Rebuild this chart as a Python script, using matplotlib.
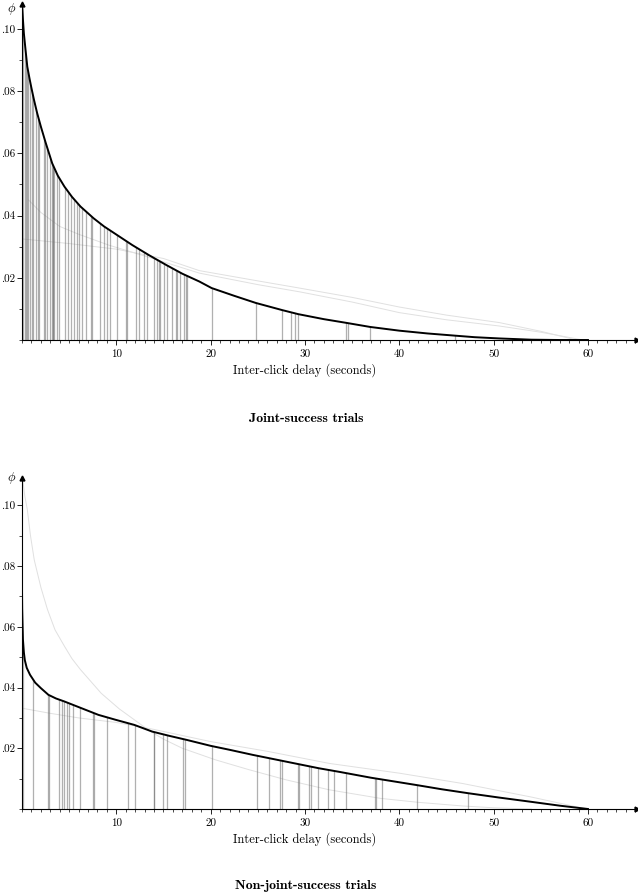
import numpy as np
import matplotlib
matplotlib.use("Agg")
import matplotlib.pyplot as plt
from matplotlib.ticker import MultipleLocator, FuncFormatter

plt.rcParams['font.family'] = 'cmr10'
plt.rcParams['mathtext.fontset'] = 'cm'
plt.rcParams['axes.unicode_minus'] = False

# ---- joint-success trials (top) ----
joint_curve_x = [0.0, 0.05, 0.1, 0.2, 0.35, 0.56, 0.8, 1.0, 1.27, 1.6, 2.0, 2.5, 3.2,
                 3.8, 4.5, 5.3, 6.2, 7.6, 8.7, 9.8, 11.7, 13.5, 15.3, 17.0, 18.8, 20.1,
                 22.5, 24.8, 27.6, 29.3, 32.0, 34.4, 36.9, 40, 43, 45.9, 48, 50.6, 54,
                 57, 60]
joint_curve_y = [0.108, 0.106, 0.103, 0.0985, 0.094, 0.0879, 0.084, 0.081, 0.0772,
                 0.073, 0.0686, 0.0635, 0.0568, 0.0528, 0.0493, 0.046, 0.0429, 0.0391,
                 0.0365, 0.0343, 0.0305, 0.0272, 0.0241, 0.0213, 0.0188, 0.0167, 0.0142,
                 0.0119, 0.0096, 0.0083, 0.0067, 0.0055, 0.0042, 0.0030, 0.0021, 0.0014,
                 0.0009, 0.0005, 0.0001, 0.0, 0.0]
joint_clicks = [0.14, 0.3, 0.43, 0.5, 0.64, 0.85, 1.03, 1.2, 1.49, 1.67, 1.84, 2.3, 2.45,
                2.7, 2.98, 3.23, 3.3, 3.33, 3.44, 3.76, 3.9, 4.57, 4.86, 5.18, 5.53, 5.82,
                6.06, 6.38, 6.81, 7.3, 7.45, 8.3, 8.65, 9.0, 9.36, 10.07, 11.0, 11.13,
                12.13, 12.41, 12.9, 13.26, 13.97, 14.26, 14.5, 14.68, 15.04, 15.39, 15.92,
                16.28, 16.45, 16.74, 17.16, 17.38, 17.45, 20.18, 24.8, 27.6, 28.5, 28.9,
                29.3, 34.4, 34.6, 36.9, 45.9]
joint_grey_a_x = [0, 5, 10, 15, 18.8, 25, 29.4, 35, 40, 45, 50.6, 55, 58.8]
joint_grey_a_y = [0.0325, 0.031, 0.0292, 0.0262, 0.0223, 0.019, 0.0167, 0.0137, 0.0106,
                  0.008, 0.0056, 0.0028, 0.0]
joint_grey_b_x = [0.7, 2, 4, 6, 9.2, 13, 18.8, 25, 29.4, 35, 40, 45, 50.6, 55, 59.5]
joint_grey_b_y = [0.045, 0.041, 0.0365, 0.034, 0.0305, 0.027, 0.0215, 0.0178, 0.0155,
                  0.0122, 0.0088, 0.0065, 0.0045, 0.0025, 0.0]

# ---- non-joint-success trials (bottom) ----
non_curve_x = [0.0, 0.02, 0.05, 0.1, 0.2, 0.3, 0.5, 0.85, 1.4, 2.0, 2.8, 3.6, 4.5, 5.4,
               6.3, 8.1, 9.9, 11.9, 13.8, 15.6, 17.4, 20.0, 22.0, 24.5, 28.0, 31.5, 33.7,
               37.0, 41.8, 44.5, 47.3, 50.5, 53.9, 57.0, 60]
non_curve_y = [0.0723, 0.066, 0.062, 0.0558, 0.0515, 0.049, 0.0465, 0.0442, 0.0416,
               0.0398, 0.0376, 0.0364, 0.0354, 0.0343, 0.0332, 0.031, 0.0294, 0.0277,
               0.0255, 0.0241, 0.0228, 0.0208, 0.0195, 0.0178, 0.0156, 0.0134, 0.0122,
               0.0103, 0.0079, 0.0065, 0.0052, 0.0038, 0.0024, 0.0011, 0.0]
non_clicks = [0.14, 1.2, 2.8, 2.9, 3.87, 4.22, 4.4, 4.75, 5.0, 5.39, 6.17, 7.52, 7.66,
              9.0, 11.24, 12.02, 13.97, 14.04, 14.96, 15.39, 17.09, 17.3, 20.1, 24.9,
              26.2, 27.4, 27.6, 29.3, 29.4, 30.4, 30.6, 31.35, 32.4, 33.1, 34.4, 37.4,
              37.5, 38.2, 41.9, 47.3]
non_grey_a_x = [0.1, 0.3, 0.56, 0.9, 1.3, 2.0, 2.7, 3.5, 4.5, 5.3, 6.2, 7.3, 8.4, 10.3,
                11.9, 13.5, 15, 17, 20.5, 24, 28, 32.6, 38, 42, 46.7, 50, 54]
non_grey_a_y = [0.108, 0.103, 0.0987, 0.09, 0.082, 0.073, 0.0657, 0.059, 0.0536, 0.0495,
                0.0459, 0.042, 0.0381, 0.033, 0.0294, 0.0258, 0.023, 0.020, 0.0162,
                0.013, 0.0096, 0.0063, 0.0035, 0.0022, 0.001, 0.0004, 0.0]
non_grey_b_x = [0, 3, 6, 10, 14, 20, 26, 32.6, 40, 46.7, 53.9, 59.4, 60]
non_grey_b_y = [0.0332, 0.0315, 0.030, 0.0285, 0.0262, 0.0222, 0.019, 0.015, 0.0118,
                0.0084, 0.004, 0.0003, 0.0]

W, H = 638, 892
fig = plt.figure(figsize=(W / 100, H / 100), dpi=100)


def panel(rect, ytop, cx, cy, clicks, greys, phi_py, xlabel_py, title_py, title):
    ax = fig.add_axes(rect)
    ax.set_xlim(0, 65.2)
    ax.set_ylim(0, ytop)
    for gx, gy in greys:
        ax.plot(gx, gy, color='#e0e0e0', lw=0.7, zorder=1)
    poly = ax.fill_between(cx, cy, 0, color='none', lw=0)
    vl = ax.vlines(clicks, 0, ytop, colors='#707070', lw=0.9, alpha=0.55, zorder=2)
    vl.set_clip_path(poly.get_paths()[0], ax.transData)
    ax.plot(cx, cy, color='black', lw=1.4, zorder=3, solid_joinstyle='round')

    for s in ['top', 'right']:
        ax.spines[s].set_visible(False)
    for s in ['left', 'bottom']:
        ax.spines[s].set_linewidth(0.8)
    ax.plot(1, 0, '>k', ms=3.5, transform=ax.transAxes, clip_on=False)
    ax.plot(0, 1, '^k', ms=3.5, transform=ax.transAxes, clip_on=False)

    ax.xaxis.set_minor_locator(MultipleLocator(1))
    ax.set_xticks([10, 20, 30, 40, 50, 60])
    ax.yaxis.set_minor_locator(MultipleLocator(0.01))
    ax.set_yticks([0.02, 0.04, 0.06, 0.08, 0.10])
    ax.yaxis.set_major_formatter(FuncFormatter(lambda v, p: ('%.2f' % v)[1:]))
    ax.tick_params(which='major', length=3.5, width=0.6, labelsize=8, pad=3)
    ax.tick_params(which='minor', length=2, width=0.5)
    ax.tick_params(axis='y', pad=1.5)

    fig.text(12 / W, 1 - phi_py / H, r'$\phi$', fontsize=9, ha='center', va='center')
    fig.text(305 / W, 1 - xlabel_py / H, 'Inter-click delay (seconds)',
             fontsize=9, ha='center', va='center')
    fig.text(306 / W, 1 - title_py / H, title, fontsize=10, ha='center', va='center',
             family='cmb10')
    return ax


panel([22 / W, 552 / H, 615 / W, 336 / H], 0.108, joint_curve_x, joint_curve_y,
      joint_clicks, [(joint_grey_a_x, joint_grey_a_y), (joint_grey_b_x, joint_grey_b_y)],
      9, 370, 419, 'Joint-success trials')
panel([22 / W, 83 / H, 615 / W, 331 / H], 0.109, non_curve_x, non_curve_y,
      non_clicks, [(non_grey_a_x, non_grey_a_y), (non_grey_b_x, non_grey_b_y)],
      478, 839, 886, 'Non-joint-success trials')

fig.savefig('out.png', dpi=100)
